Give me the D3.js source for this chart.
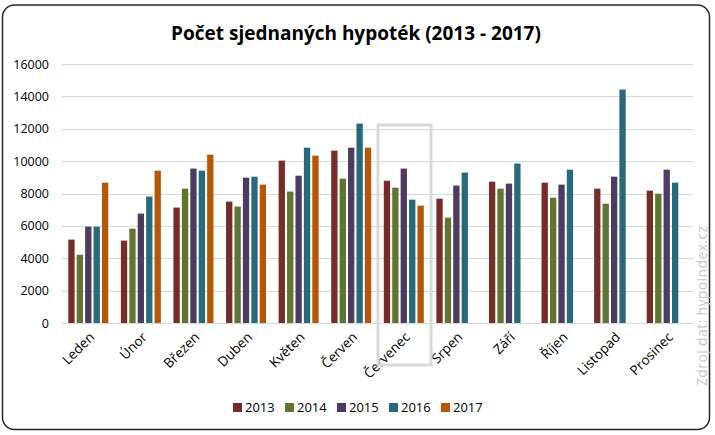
<!DOCTYPE html>
<html>
<head>
<meta charset="utf-8">
<script src="https://cdn.jsdelivr.net/npm/d3@7"></script>
<style>
  body { margin: 0; background: #fff; }
  svg text { font-family: "Open Sans", "Noto Sans", sans-serif; }
</style>
</head>
<body>
<div id="chart"></div>
<script>
// mesice a roky
var months = ["Leden", "Únor", "Březen", "Duben", "Květen", "Červen", "Červenec", "Srpen", "Září", "Říjen", "Listopad", "Prosinec"];
var years = ["2013", "2014", "2015", "2016", "2017"];
var colors = ["#772c2a", "#5f7530", "#4d3b62", "#276a7c", "#b65708"];

// pocty hypotek podle roku
var y2013 = [5150, 5090, 7130, 7500, 10030, 10650, 8790, 7680, 8730, 8670, 8300, 8180];
var y2014 = [4220, 5830, 8300, 7190, 8120, 8920, 8360, 6510, 8300, 7740, 7370, 7990];
var y2015 = [5950, 6760, 9540, 8980, 9100, 10830, 9540, 8490, 8610, 8550, 9040, 9470];
var y2016 = [5950, 7810, 9410, 9040, 10830, 12320, 7620, 9290, 9850, 9470, 14420, 8670];
var y2017 = [8670, 9410, 10400, 8550, 10340, 10830, 7250, null, null, null, null, null];
var series = [y2013, y2014, y2015, y2016, y2017];

var yTicks = [0, 2000, 4000, 6000, 8000, 10000, 12000, 14000, 16000];

var W = 715, H = 435;
var plotL = 62, plotR = 693, plotT = 64, plotB = 323;

var svg = d3.select('#chart').append('svg')
	.attr('width', W)
	.attr('height', H);

// ramecek
svg.append('rect')
	.attr('x', 2.5).attr('y', 5)
	.attr('width', 707).attr('height', 424.5)
	.attr('rx', 12).attr('ry', 12)
	.attr('fill', '#fff')
	.attr('stroke', '#262626')
	.attr('stroke-width', 1.5);

svg.append('text')
	.attr('x', 356)
	.attr('y', 40)
	.attr('text-anchor', 'middle')
	.attr('font-size', '19px')
	.attr('font-weight', 'bold')
	.attr('fill', '#000')
	.text('Počet sjednaných hypoték (2013 - 2017)');

var y = d3.scaleLinear().domain([0, 16000]).range([plotB, plotT]);
var x0 = d3.scaleBand().domain(months).range([plotL, plotR]);
var x1 = d3.scaleBand().domain(years).range([0, 40]).paddingInner(0.25);
var off = (x0.bandwidth() - 40) / 2;

// mrizka
svg.append('g')
	.selectAll('line')
	.data(yTicks)
	.enter()
	.append('line')
	.attr('x1', plotL).attr('x2', plotR)
	.attr('y1', function(d){ return Math.round(y(d)) + 0.5; })
	.attr('y2', function(d){ return Math.round(y(d)) + 0.5; })
	.attr('stroke', '#d9d9d9')
	.attr('stroke-width', 1);

var yAxis = svg.append('g')
	.attr('transform', 'translate(' + (plotL - 13) + ',0)')
	.call(d3.axisLeft(y).tickValues(yTicks).tickSize(0).tickPadding(0).tickFormat(d3.format('d')));
yAxis.select('.domain').remove();
yAxis.selectAll('text')
	.attr('font-size', '12.5px')
	.attr('fill', '#000')
	.style('font-family', '"Open Sans", sans-serif');

// sloupce
series.forEach(function(vals, si){
	svg.append('g')
		.selectAll('rect')
		.data(vals.map(function(v, i){ return {m: months[i], v: v}; }).filter(function(d){ return d.v !== null; }))
		.enter()
		.append('rect')
		.attr('x', function(d){ return x0(d.m) + off + x1(years[si]); })
		.attr('y', function(d){ return y(d.v); })
		.attr('width', x1.bandwidth())
		.attr('height', function(d){ return y(0) - y(d.v); })
		.attr('fill', colors[si]);
});

// popisky mesicu
var xAxis = svg.append('g')
	.attr('transform', 'translate(0,' + plotB + ')')
	.call(d3.axisBottom(x0).tickSize(0).tickPadding(0));
xAxis.select('.domain').remove();
xAxis.selectAll('text')
	.attr('font-size', '13.5px')
	.attr('fill', '#000')
	.style('font-family', '"Open Sans", sans-serif')
	.attr('text-anchor', 'end')
	.attr('dy', 0)
	.attr('transform', 'translate(7,15) rotate(-45)');

// zvyrazneni cervence
svg.append('rect')
	.attr('x', 378).attr('y', 125)
	.attr('width', 53).attr('height', 240)
	.attr('fill', 'none')
	.attr('stroke', '#d9d9d9')
	.attr('stroke-width', 3);

// legenda
var leg = svg.append('g').attr('transform', 'translate(233,412)');
years.forEach(function(yr, i){
	var g = leg.append('g').attr('transform', 'translate(' + (i * 52) + ',0)');
	g.append('rect')
		.attr('x', 0).attr('y', -9)
		.attr('width', 9).attr('height', 9)
		.attr('fill', colors[i]);
	g.append('text')
		.attr('x', 12).attr('y', 0)
		.attr('font-size', '13px')
		.attr('fill', '#000')
		.text(yr);
});

svg.append('text')
	.attr('transform', 'translate(707,386) rotate(-90)')
	.attr('font-size', '14px')
	.attr('fill', '#c8c8c8')
	.attr('textLength', 160)
	.text('Zdroj dat: hypoindex.cz');
</script>
</body>
</html>
